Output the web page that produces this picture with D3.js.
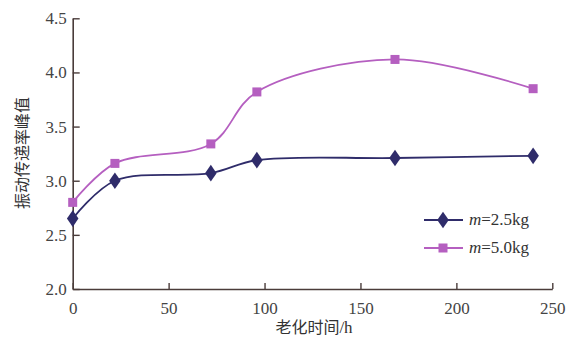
<!DOCTYPE html>
<html><head><meta charset="utf-8">
<script src="https://cdn.jsdelivr.net/npm/d3@7"></script>
<style>
body{margin:0;background:#fff}
svg text, svg tspan{font-family:"Liberation Serif", serif !important;}
svg .cjk{font-family:"Noto Sans CJK SC", sans-serif !important;}
</style>
</head><body>
<svg id="c" width="568" height="342"></svg>
<script>
const hours = [0, 22, 72, 96, 168, 240];
const seriesA = [2.65, 3.00, 3.07, 3.19, 3.21, 3.23]; // m=2.5kg
const seriesB = [2.80, 3.16, 3.34, 3.82, 4.12, 3.85]; // m=5.0kg
const xTicks = [0, 50, 100, 150, 200, 250];
const yTicks = [2.0, 2.5, 3.0, 3.5, 4.0, 4.5];
const legendNames = ["=2.5kg", "=5.0kg"];

const svg = d3.select("#c");
const x = d3.scaleLinear().domain([0, 250]).range([72.7, 552.3]);
const y = d3.scaleLinear().domain([2.0, 4.5]).range([289, 18.3]);
const axisColor = "#4a3c3a";

const gx = svg.append("g").attr("transform", `translate(0,${y(2.0)})`)
  .call(d3.axisBottom(x).tickValues(xTicks).tickSizeInner(-6).tickSizeOuter(0).tickPadding(13).tickFormat(d3.format("d")));
const gy = svg.append("g").attr("transform", `translate(${x(0)},0)`)
  .call(d3.axisLeft(y).tickValues(yTicks).tickSizeInner(-7).tickSizeOuter(0).tickPadding(6).tickFormat(d3.format(".1f")));
[gx, gy].forEach(g => {
  g.attr("font-family", null).attr("font-size", 17);
  g.select(".domain").attr("stroke", axisColor).attr("stroke-width", 1.6);
  g.selectAll(".tick line").attr("stroke", axisColor).attr("stroke-width", 1.4);
  g.selectAll(".tick text").attr("fill", "#444").attr("font-size", 17);
});
gx.selectAll(".tick text").attr("dy", "0.71em");

const colors = ["#2f2c6a", "#b55fc0"];
const line = d3.line().x((d, i) => x(hours[i])).y(d => y(d)).curve(d3.curveCatmullRom.alpha(0.5));
[seriesA, seriesB].forEach((s, k) => {
  svg.append("path").datum(s).attr("d", line).attr("fill", "none")
    .attr("stroke", colors[k]).attr("stroke-width", 1.8);
});
// markers
const diamond = d3.symbol().type(d3.symbolDiamond).size(80);
svg.append("g").selectAll("path").data(seriesA).join("path")
  .attr("d", diamond).attr("fill", colors[0])
  .attr("transform", (d, i) => `translate(${x(hours[i])},${y(d)}) scale(1.2,1)`);
svg.append("g").selectAll("rect").data(seriesB).join("rect")
  .attr("x", (d, i) => x(hours[i]) - 4.5).attr("y", d => y(d) - 4.5)
  .attr("width", 9).attr("height", 9).attr("fill", colors[1]);

// legend
const lg = svg.append("g");
legendNames.forEach((n, k) => {
  const ly = 220 + k * 28;
  lg.append("line").attr("x1", 424).attr("x2", 463).attr("y1", ly).attr("y2", ly)
    .attr("stroke", colors[k]).attr("stroke-width", 1.8);
  if (k === 0) lg.append("path").attr("d", diamond).attr("fill", colors[0]).attr("transform", `translate(443,${ly}) scale(1.2,1)`);
  else lg.append("rect").attr("x", 443 - 4.5).attr("y", ly - 4.5).attr("width", 9).attr("height", 9).attr("fill", colors[1]);
  const t = lg.append("text").attr("x", 469).attr("y", ly + 5).attr("fill", "#333").attr("font-size", 17);
  t.append("tspan").attr("font-style", "italic").text("m");
  t.append("tspan").text(n);
});

// axis titles
const xt = svg.append("text").attr("x", 314).attr("y", 333).attr("text-anchor", "middle")
  .attr("fill", "#333").attr("font-size", 16);
xt.append("tspan").attr("class", "cjk").text("老化时间");
xt.append("tspan").attr("font-size", 17).text("/h");
svg.append("text").attr("class", "cjk").attr("transform", "translate(28,153) rotate(-90)").attr("text-anchor", "middle")
  .attr("fill", "#333").attr("font-size", 16).text("振动传递率峰值");
</script>
</body></html>
